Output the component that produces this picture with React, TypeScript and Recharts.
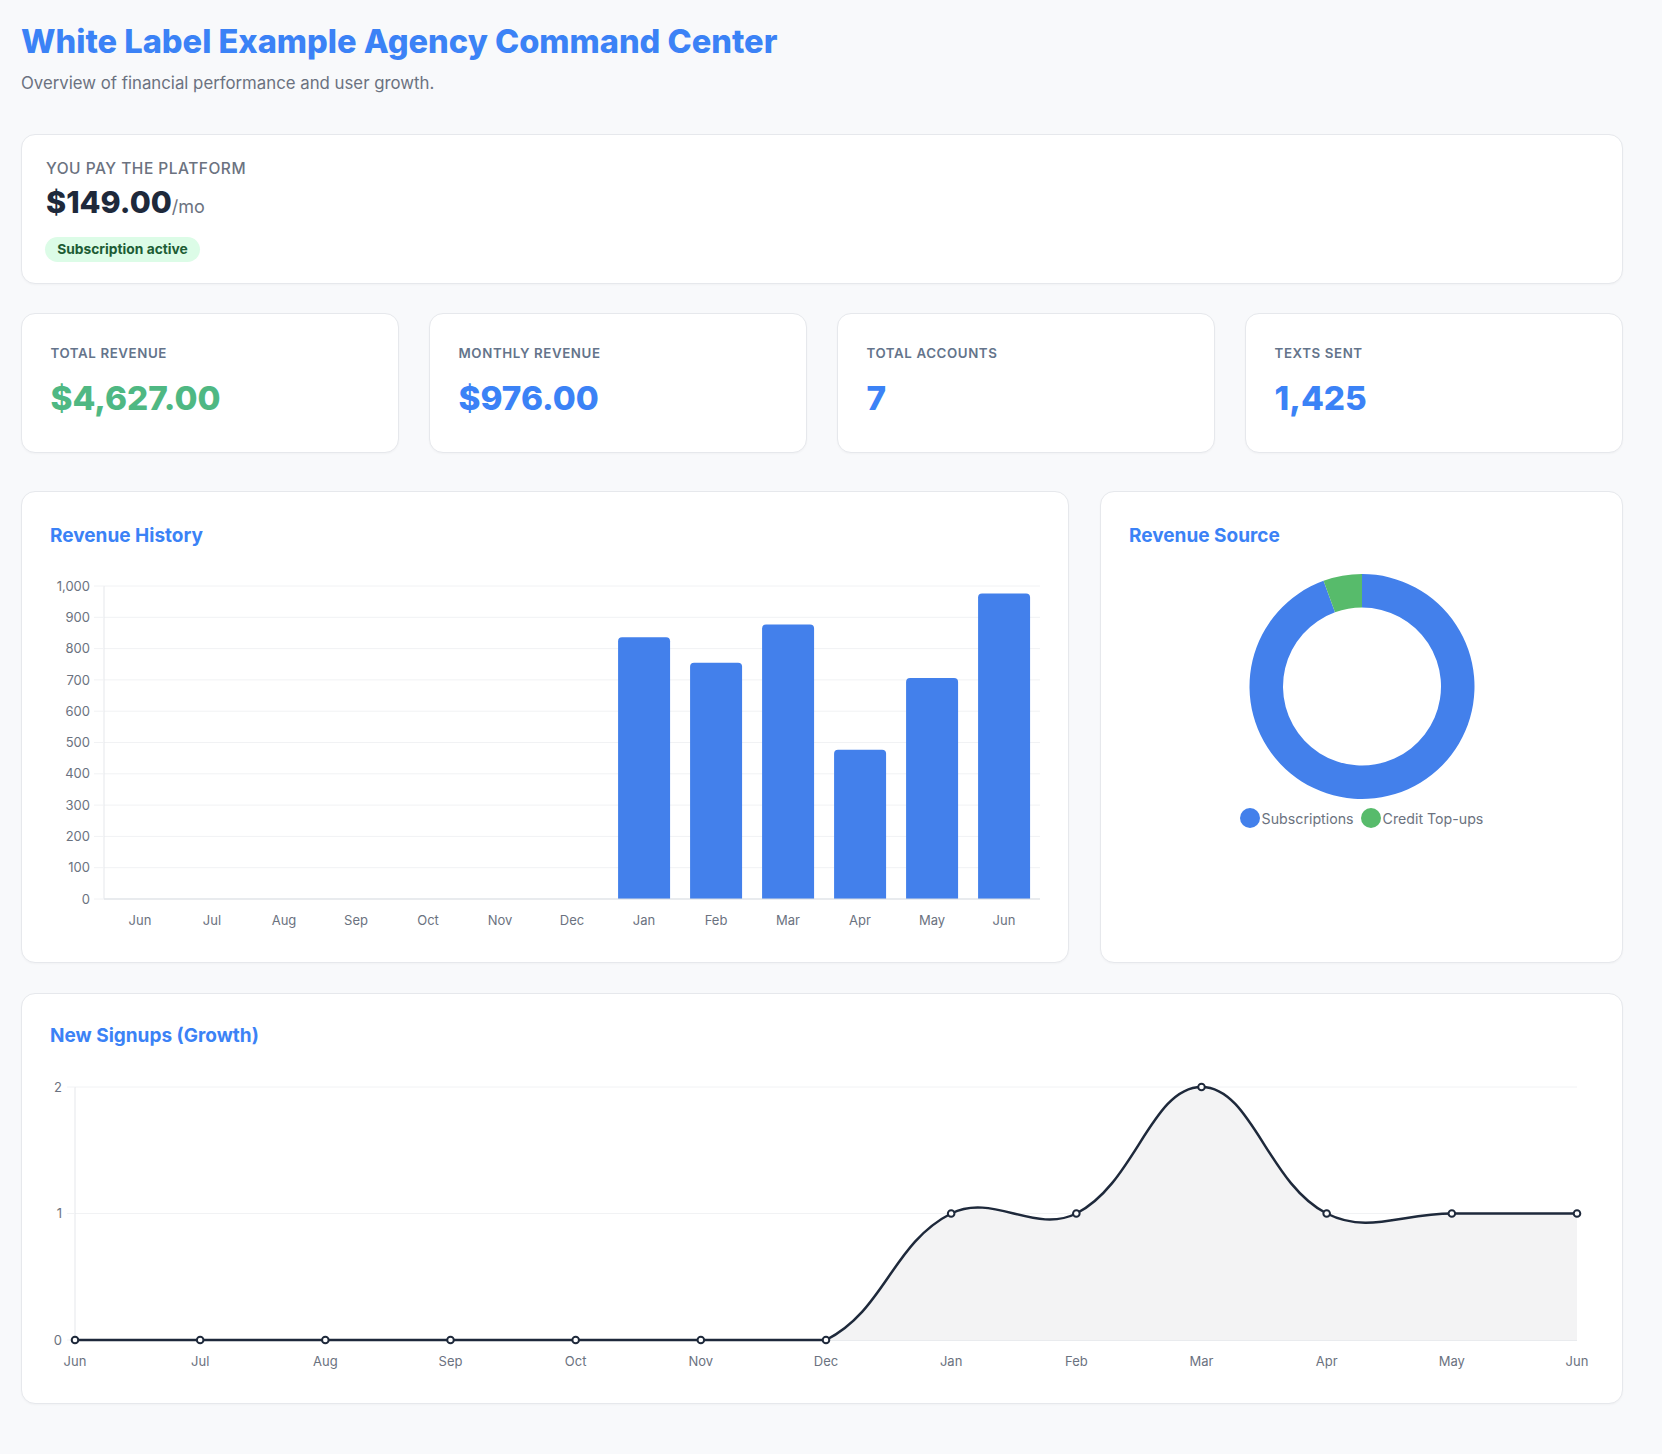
import React from 'react';
import {
  BarChart,
  Bar,
  XAxis,
  YAxis,
  CartesianGrid,
  PieChart,
  Pie,
  Cell,
  Legend,
  AreaChart,
  Area,
} from 'recharts';

// ---------- data ----------
const revenueMonths = ['Jun', 'Jul', 'Aug', 'Sep', 'Oct', 'Nov', 'Dec', 'Jan', 'Feb', 'Mar', 'Apr', 'May', 'Jun'];
const revenueValues = [0, 0, 0, 0, 0, 0, 0, 836, 755, 877, 477, 706, 976];
const revenueTicks = [0, 100, 200, 300, 400, 500, 600, 700, 800, 900, 1000];

const sourceNames = ['Subscriptions', 'Credit Top-ups'];
const sourceValues = [4370, 257];
const sourceColors = ['#4380eb', '#57bb6b'];

const signupMonths = ['Jun', 'Jul', 'Aug', 'Sep', 'Oct', 'Nov', 'Dec', 'Jan', 'Feb', 'Mar', 'Apr', 'May', 'Jun'];
const signupValues = [0, 0, 0, 0, 0, 0, 0, 1, 1, 2, 1, 1, 1];
const signupTicks = [0, 1, 2];

const statLabels = ['TOTAL REVENUE', 'MONTHLY REVENUE', 'TOTAL ACCOUNTS', 'TEXTS SENT'];
const statValues = ['$4,627.00', '$976.00', '7', '1,425'];
const statColors = ['#4fb883', '#3b82f6', '#3b82f6', '#3b82f6'];

const revenueData = revenueMonths.map((m, i) => ({ month: m, revenue: revenueValues[i] }));
const sourceData = sourceNames.map((n, i) => ({ name: n, value: sourceValues[i] }));
const signupData = signupMonths.map((m, i) => ({ month: m, signups: signupValues[i] }));

// ---------- Chart.js-like spline curve (tension) ----------
const chartJsSpline = (tension: number) => (context: any) => {
  let pts: number[][] = [];
  let line = NaN;
  const flush = () => {
    const n = pts.length;
    if (!n) return;
    let minX = Infinity, maxX = -Infinity, minY = Infinity, maxY = -Infinity;
    for (const [x, y] of pts) {
      if (x < minX) minX = x;
      if (x > maxX) maxX = x;
      if (y < minY) minY = y;
      if (y > maxY) maxY = y;
    }
    const cx = (v: number) => Math.min(maxX, Math.max(minX, v));
    const cy = (v: number) => Math.min(maxY, Math.max(minY, v));
    const cps = pts.map((cur, i) => {
      const prev = pts[Math.max(0, i - 1)];
      const next = pts[Math.min(n - 1, i + 1)];
      const d01 = Math.hypot(cur[0] - prev[0], cur[1] - prev[1]);
      const d12 = Math.hypot(next[0] - cur[0], next[1] - cur[1]);
      let s01 = d01 / (d01 + d12);
      let s12 = d12 / (d01 + d12);
      if (isNaN(s01)) s01 = 0;
      if (isNaN(s12)) s12 = 0;
      const fa = tension * s01;
      const fb = tension * s12;
      return {
        px: cx(cur[0] - fa * (next[0] - prev[0])),
        py: cy(cur[1] - fa * (next[1] - prev[1])),
        nx: cx(cur[0] + fb * (next[0] - prev[0])),
        ny: cy(cur[1] + fb * (next[1] - prev[1])),
      };
    });
    if (line) context.lineTo(pts[0][0], pts[0][1]);
    else context.moveTo(pts[0][0], pts[0][1]);
    for (let i = 1; i < n; i++) {
      context.bezierCurveTo(cps[i - 1].nx, cps[i - 1].ny, cps[i].px, cps[i].py, pts[i][0], pts[i][1]);
    }
  };
  return {
    areaStart() { line = 0; },
    areaEnd() { line = NaN; },
    lineStart() { pts = []; },
    lineEnd() {
      flush();
      if (line || (line !== 0 && pts.length === 1)) context.closePath();
      line = 1 - line;
    },
    point(x: number, y: number) { pts.push([+x, +y]); },
  };
};
const signupCurve = chartJsSpline(0.4);

// ---------- helpers ----------
const FONT = 'Inter, "Noto Sans", sans-serif';
const TICK_FILL = '#6b7280';
const GRID = '#f1f2f4';

const Text = ({ x, cy, size, lh, style, children }: any) => (
  <div
    style={{
      position: 'absolute',
      left: x,
      top: cy - lh / 2,
      height: lh,
      lineHeight: `${lh}px`,
      fontSize: size,
      whiteSpace: 'nowrap',
      ...style,
    }}
  >
    {children}
  </div>
);

const Card = ({ x, y, w, h }: any) => (
  <div
    style={{
      position: 'absolute',
      left: x,
      top: y,
      width: w,
      height: h,
      boxSizing: 'border-box',
      background: '#ffffff',
      border: '1px solid #e6e8ec',
      borderRadius: 14,
      boxShadow: '0 1px 2px rgba(16,24,40,0.03)',
    }}
  />
);

const renderSourceLegend = () => (
  <div
    style={{
      display: 'flex',
      justifyContent: 'center',
      alignItems: 'center',
      gap: 7,
      fontSize: 14.2,
      color: TICK_FILL,
      fontFamily: FONT,
      height: 21,
    }}
  >
    {sourceNames.map((n, i) => (
      <div key={n} style={{ display: 'flex', alignItems: 'center' }}>
        <span
          style={{
            display: 'inline-block',
            width: 20,
            height: 20,
            borderRadius: 10,
            background: sourceColors[i],
            marginRight: 2,
          }}
        />
        <span>{n}</span>
      </div>
    ))}
  </div>
);

export default function App() {
  const statX = [21, 429, 837, 1245];
  return (
    <div
      style={{
        position: 'absolute',
        left: 0,
        top: 0,
        width: 1662,
        height: 1454,
        background: '#f8f9fb',
        fontFamily: FONT,
        overflow: 'hidden',
      }}
    >
      {/* header */}
      <Text x={21} cy={41} size={32.6} lh={40} style={{ fontWeight: 800, color: '#3b82f6' }}>
        White Label Example Agency Command Center
      </Text>
      <Text x={21} cy={83} size={16.8} lh={22} style={{ color: '#6b7280' }}>
        Overview of financial performance and user growth.
      </Text>

      {/* platform card */}
      <Card x={21} y={134} w={1602} h={150} />
      <Text x={46} cy={168.5} size={15.5} lh={20} style={{ color: '#6b7280', fontWeight: 500, letterSpacing: '0.5px' }}>
        YOU PAY THE PLATFORM
      </Text>
      <Text x={46} cy={202} size={30.5} lh={36} style={{ color: '#1e293b', fontWeight: 800 }}>
        $149.00<span style={{ fontSize: 18, fontWeight: 400, color: '#6b7280' }}>/mo</span>
      </Text>
      <div
        style={{
          position: 'absolute',
          left: 45,
          top: 237,
          height: 25,
          width: 155,
          boxSizing: 'border-box',
          borderRadius: 13,
          background: '#dcfce7',
          color: '#1d5c35',
          fontSize: 13.8,
          fontWeight: 700,
          lineHeight: '25px',
          textAlign: 'center',
          whiteSpace: 'nowrap',
        }}
      >
        Subscription active
      </div>

      {/* stat cards */}
      {statLabels.map((label, i) => (
        <React.Fragment key={label}>
          <Card x={statX[i]} y={313} w={378} h={140} />
          <Text
            x={statX[i] + 29.5}
            cy={353.3}
            size={13.3}
            lh={18}
            style={{ color: '#64748b', fontWeight: 600, letterSpacing: '0.6px' }}
          >
            {label}
          </Text>
          <Text x={statX[i] + 29.5} cy={397.5} size={33.3} lh={42} style={{ color: statColors[i], fontWeight: 800 }}>
            {statValues[i]}
          </Text>
        </React.Fragment>
      ))}

      {/* revenue history */}
      <Card x={21} y={491} w={1048} h={472} />
      <Text x={50} cy={535.5} size={19} lh={24} style={{ color: '#3b82f6', fontWeight: 700 }}>
        Revenue History
      </Text>
      <div style={{ position: 'absolute', left: 21, top: 560 }}>
        <BarChart
          width={1048}
          height={400}
          data={revenueData}
          margin={{ top: 26, right: 29, left: 0, bottom: 0 }}
          barCategoryGap="14%"
        >
          <CartesianGrid vertical={false} stroke={GRID} />
          <XAxis
            dataKey="month"
            height={61}
            interval={0}
            tickLine={false}
            tickSize={0}
            tickMargin={17}
            axisLine={{ stroke: '#d9dde3' }}
            tick={{ fill: TICK_FILL, fontSize: 13, fontFamily: FONT }}
          />
          <YAxis
            width={83}
            domain={[0, 1000]}
            ticks={revenueTicks}
            interval={0}
            tickSize={10}
            tickMargin={4}
            tickLine={{ stroke: GRID }}
            axisLine={{ stroke: '#e5e7eb' }}
            tickFormatter={(v: number) => v.toLocaleString('en-US')}
            tick={{ fill: TICK_FILL, fontSize: 13, fontFamily: FONT }}
          />
          <Bar dataKey="revenue" fill="#4380eb" radius={[4, 4, 0, 0]} isAnimationActive={false} />
        </BarChart>
      </div>

      {/* revenue source */}
      <Card x={1100} y={491} w={523} h={472} />
      <Text x={1129} cy={535.5} size={19} lh={24} style={{ color: '#3b82f6', fontWeight: 700 }}>
        Revenue Source
      </Text>
      <div style={{ position: 'absolute', left: 1100, top: 560 }}>
        <PieChart width={523} height={300} margin={{ top: 0, right: 0, left: 0, bottom: 0 }}>
          <Pie
            data={sourceData}
            dataKey="value"
            nameKey="name"
            cx={262}
            cy={126.5}
            innerRadius={79}
            outerRadius={112.5}
            startAngle={90}
            endAngle={-270}
            stroke="none"
            isAnimationActive={false}
          >
            {sourceData.map((d, i) => (
              <Cell key={d.name} fill={sourceColors[i]} />
            ))}
          </Pie>
          <Legend
            content={renderSourceLegend}
            wrapperStyle={{ position: 'absolute', top: 247.5, left: 0, width: 523, bottom: 'auto' }}
          />
        </PieChart>
      </div>

      {/* signups */}
      <Card x={21} y={993} w={1602} h={411} />
      <Text x={50} cy={1036} size={19} lh={24} style={{ color: '#3b82f6', fontWeight: 700 }}>
        New Signups (Growth)
      </Text>
      <div style={{ position: 'absolute', left: 21, top: 1060 }}>
        <AreaChart
          width={1602}
          height={340}
          data={signupData}
          margin={{ top: 27, right: 46, left: 0, bottom: 0 }}
        >
          <CartesianGrid vertical={false} stroke={GRID} />
          <XAxis
            dataKey="month"
            height={60}
            interval={0}
            tickLine={false}
            tickSize={0}
            tickMargin={17}
            axisLine={{ stroke: '#d9dde3' }}
            tick={{ fill: TICK_FILL, fontSize: 13, fontFamily: FONT }}
          />
          <YAxis
            width={54}
            domain={[0, 2]}
            ticks={signupTicks}
            interval={0}
            tickSize={8}
            tickMargin={5}
            tickLine={{ stroke: GRID }}
            axisLine={{ stroke: '#e5e7eb' }}
            tick={{ fill: TICK_FILL, fontSize: 13, fontFamily: FONT }}
          />
          <Area
            dataKey="signups"
            type={signupCurve as any}
            stroke="#1e293b"
            strokeWidth={2.5}
            fill="#f3f3f4"
            fillOpacity={1}
            dot={{ r: 3.3, fill: '#ffffff', stroke: '#1e293b', strokeWidth: 2 }}
            activeDot={false}
            isAnimationActive={false}
            {...({ zIndex: 510 } as any)}
          />
        </AreaChart>
      </div>
    </div>
  );
}
